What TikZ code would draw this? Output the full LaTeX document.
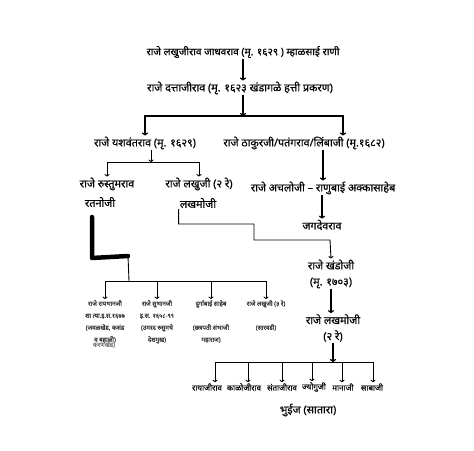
\documentclass[tikz,border=0pt]{standalone}
\usepackage{fontspec}
\newfontfamily\devfont[Script=Devanagari,FakeBold=0.4]{Noto Sans}
\usetikzlibrary{arrows.meta}

\begin{document}
\begin{tikzpicture}[x=1pt,y=-1pt,inner sep=1pt,
	person/.style={font=\devfont\fontsize{10.8}{12}\selectfont},
	pair/.style={font=\devfont\fontsize{10.8}{16}\selectfont,align=center},
	kid/.style={font=\devfont\fontsize{6.2}{12}\selectfont,text=black!80,align=center,anchor=north},
	grandkid/.style={font=\devfont\fontsize{8}{9}\selectfont},
	heavy/.style={line width=1.2pt,-{To[length=3pt,width=6pt]}},
	link/.style={line width=0.9pt,-{To[length=2.5pt,width=5pt]}},
	marker/.style={line width=4.5pt,line cap=round,line join=round}]
\useasboundingbox (0,0) rectangle (474,450);
\node[person,font=\devfont\fontsize{10.2}{12}\selectfont] (lakhuji_1) at (243,52) {राजे लखुजीराव जाधवराव (मृ. १६२९ ) म्हाळसाई राणी};
\node[person]		(dattaji)	at (240,88)	{राजे दत्ताजीराव (मृ. १६२३ खंडागळे हत्ती प्रकरण)};
\node[person]		(yashwant)	at (145,143)	{राजे यशवंतराव (मृ. १६२९)};
\node[person]		(thakurji)	at (304,143)	{राजे ठाकुरजी/पतंगराव/लिंबाजी (मृ.१६८२)};
\node[person]		(rustum)	at (107,184)	{राजे रुस्तुमराव};
\node[person]		(ratanoji)	at (100,202)	{रतनोजी};
\node[person]		(lakhuji_2)	at (199,184)	{राजे लखुजी (२ रे)};
\node[person]		(lakhmoji_1)	at (198,203)	{लखमोजी};
\node[person]		(achaloji)	at (323,188)	{राजे अचलोजी – राणुबाई अक्कासाहेब};
\node[person]		(jagdev)	at (322,225)	{जगदेवराव};
\node[pair]		(khandoji)	at (331,274)	{राजे खंडोजी\\(मृ. १७०३)};
\node[pair]		(lakhmoji_2)	at (333,328)	{राजे लखमोजी\\(२ रे)};
\node[kid]		(raybhan)	at (105,299)	{राजे रायभानजी\\शा त्या.इ.स.१६७७\\(जवळखेड, कसंड\\व बहाळी)};
\node[kid,text=black!55] (karan)	at (104,340)	{करणखेड)};
\node[kid]		(subhan)	at (157,299)	{राजे सुभानजी\\इ.स. १६५८-९९\\(उमरद रुसुमचे\\देशमुख)};
\node[kid]		(durgabai)	at (211,299)	{दुर्गाबाई साहेब\\[12pt](छत्रपती संभाजी\\महाराज)};
\node[kid]		(lakhuji_3)	at (266,299)	{राजे लखुजी (३ रे)\\[12pt](सारवडी)};
\node[grandkid]		(g_1)		at (207,387)	{रायाजीराव};
\node[grandkid]		(g_2)		at (244,387)	{काळोजीराव};
\node[grandkid]		(g_3)		at (282,387)	{संताजीराव};
\node[grandkid]		(g_4)		at (314,387)	{ज्योगुजी};
\node[grandkid]		(g_5)		at (343,387)	{मानाजी};
\node[grandkid]		(g_6)		at (372,387)	{साबाजी};
\node[person]		(bhuinj)	at (308,410)	{भुईज (सातारा)};

\coordinate (split_1) at (243,116);
\coordinate (split_2) at (151,162);
\coordinate (split_3) at (129,281);
\coordinate (split_4) at (333,362);
\coordinate (step_1) at (254,224);
\coordinate (step_2) at (330,240);
\coordinate (hook_1) at (92,217);
\coordinate (hook_2) at (128,256);

\draw[heavy]	(lakhuji_1.south) -- (lakhuji_1.south |- dattaji.north);
\draw[heavy]	(dattaji.south -| split_1) -- (split_1);
\draw[heavy]	(split_1) -| (yashwant.north);
\draw[heavy]	(split_1) -| ([xshift=39pt]thakurji.north);
\draw[link]	(yashwant.south -| split_2) -- (split_2);
\draw[link]	(split_2) -| (rustum.north);
\draw[link]	(split_2) -| (lakhuji_2.north);
\draw[heavy]	(achaloji |- thakurji.south) -- (achaloji.north);
\draw[heavy]	(jagdev |- achaloji.south) -- (jagdev.north);
\draw[link]	(lakhmoji_1.south west) |- (step_1) |- (step_2) -- (khandoji.north);
\draw[marker]	(hook_1) -- (92,258) -- (hook_2);
\draw[line width=0.9pt] (hook_2) -- (split_3);
\foreach \k in {raybhan,subhan,durgabai,lakhuji_3}
	\draw[link] (split_3) -| (\k.north);
\draw[heavy]	(khandoji.south) -- (khandoji.south |- lakhmoji_2.north);
\draw[heavy]	(lakhmoji_2.south) -- (split_4);
\foreach \g/\d in {g_1/8,g_2/4,g_3/0,g_4/-2,g_5/-1,g_6/1}
	\draw[link] (split_4) -| ([xshift=\d pt]\g.north);
\end{tikzpicture}
\end{document}
